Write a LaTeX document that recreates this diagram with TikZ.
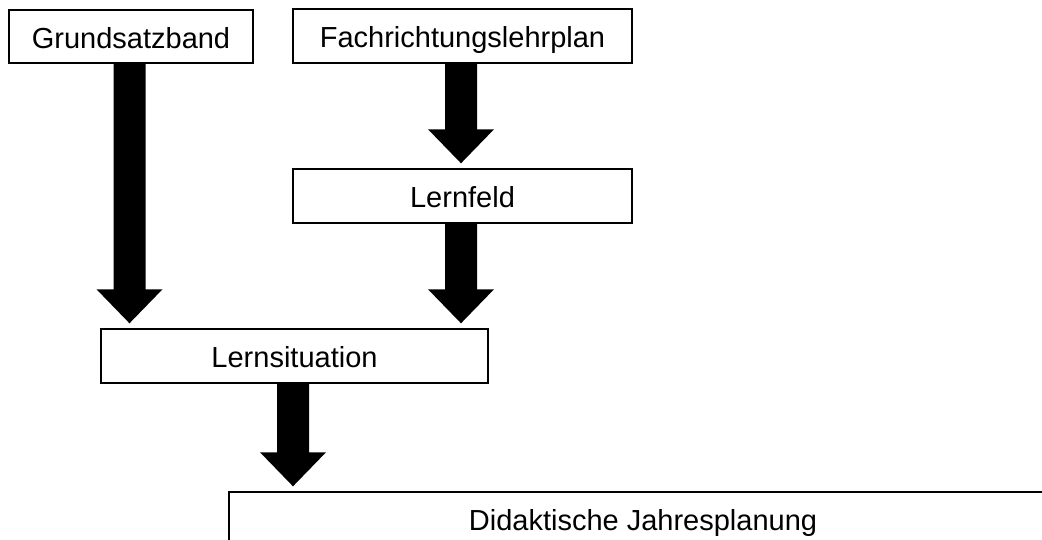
\documentclass[tikz,border=0pt]{standalone}
\usepackage{fontspec}
\setmainfont{Liberation Sans}
\usetikzlibrary{calc}
\tikzset{
  box/.style={draw=black, line width=1.4pt, fill=white, inner sep=0pt,
    minimum height=54pt, font=\fontsize{29}{34}\selectfont,
    text height=26pt, text depth=2.2pt, anchor=center},
  arrowfill/.style={fill=black}
}
\newcommand\blockarr[2]{%
  \fill[arrowfill] let \p1=($(#1.south)+(-1.5pt,1pt)$), \p2=($(#1.south |- #2.north)+(-1.5pt,0pt)$) in
    (\x1-16pt,\y1) -- (\x1+16pt,\y1) -- (\x1+16pt,\y2+39pt) -- (\x1+33pt,\y2+39pt)
    -- (\x1,\y2+5pt) -- (\x1-33pt,\y2+39pt) -- (\x1-16pt,\y2+39pt) -- cycle;}
\begin{document}
\begin{tikzpicture}[x=1pt,y=-1pt]
  \useasboundingbox (0,0) rectangle (1042,540);
  \clip (0,0) rectangle (1042,540);
  \fill[white] (0,0) rectangle (1042,540);
  \node[box, minimum width=244pt, minimum height=53pt] (gb) at (131,36.5) {Grundsatzband};
  \node[box, minimum width=339pt] (fl) at (462.5,36) {Fachrichtungslehrplan};
  \node[box, minimum width=339pt] (lf) at (462.5,196) {Lernfeld};
  \node[box, minimum width=387pt] (ls) at (294.5,356) {Lernsituation};
  \node[box, minimum width=828pt] (dj) at (643,519) {Didaktische Jahresplanung};
  \blockarr{gb}{ls}
  \blockarr{fl}{lf}
  \blockarr{lf}{ls}
  \blockarr{ls}{dj}
\end{tikzpicture}
\end{document}
